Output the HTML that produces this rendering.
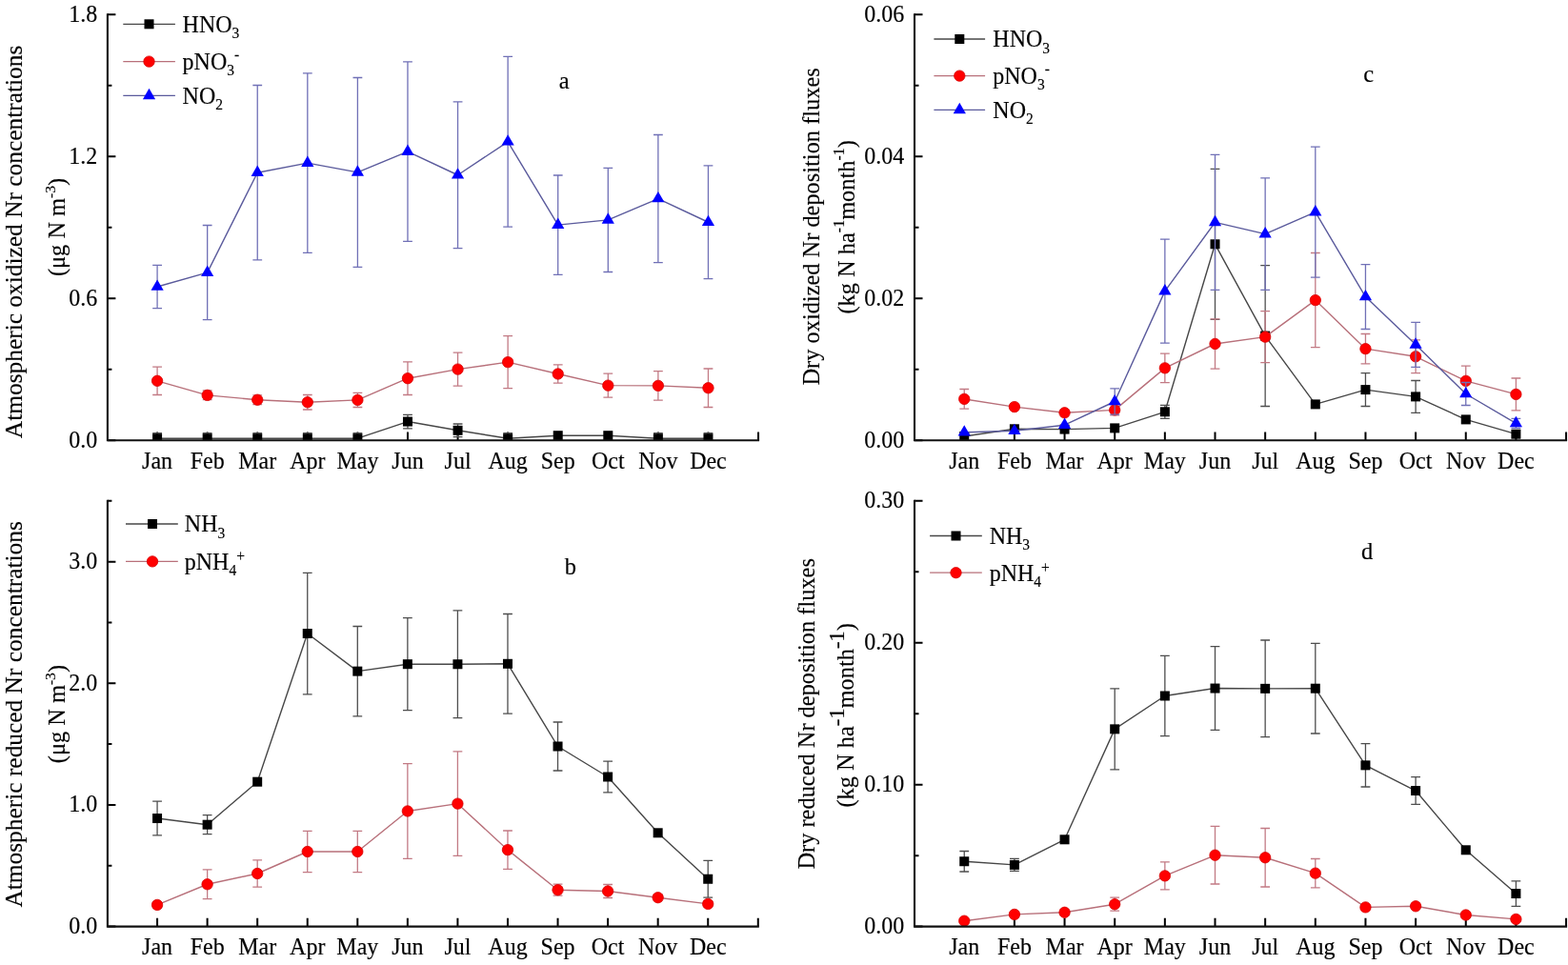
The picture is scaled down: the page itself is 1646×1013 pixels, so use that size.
<!DOCTYPE html>
<html><head><meta charset="utf-8"><title>Figure</title>
<style>
html,body{margin:0;padding:0;background:#fff;}
body{width:1646px;height:1013px;overflow:hidden;}
svg{display:block;}
text{font-family:'Liberation Serif','Times New Roman',serif;fill:#000;stroke:#000;stroke-width:0.15px;}
</style></head>
<body>
<svg width="1646" height="1013" viewBox="0 0 1646 1013">
<rect width="1646" height="1013" fill="#fff"/>
<g id="panel-a"><clipPath id="clipa"><rect x="112.9" y="0" width="685.14" height="462.2"/></clipPath>
<path d="M112.9 462.2h8.5M112.9 313.23h8.5M112.9 164.27h8.5M112.9 15.3h8.5M112.9 387.72h4.5M112.9 238.75h4.5M112.9 89.78h4.5M165.08 462.2v-8.8M217.66 462.2v-8.8M270.24 462.2v-8.8M322.82 462.2v-8.8M375.4 462.2v-8.8M427.98 462.2v-8.8M480.56 462.2v-8.8M533.14 462.2v-8.8M585.72 462.2v-8.8M638.3 462.2v-8.8M690.88 462.2v-8.8M743.46 462.2v-8.8M796.04 462.2v-8.8" stroke="#000" stroke-width="2" fill="none"/>
<g clip-path="url(#clipa)"><path d="M165.08 454.6V465.8M160.18 454.6H169.98M160.18 465.8H169.98" stroke="#4e4e4e" stroke-width="1.3" fill="none"/><path d="M217.66 454.6V465.8M212.76 454.6H222.56M212.76 465.8H222.56" stroke="#4e4e4e" stroke-width="1.3" fill="none"/><path d="M270.24 454.6V465.8M265.34 454.6H275.14M265.34 465.8H275.14" stroke="#4e4e4e" stroke-width="1.3" fill="none"/><path d="M322.82 454.6V465.8M317.92 454.6H327.72M317.92 465.8H327.72" stroke="#4e4e4e" stroke-width="1.3" fill="none"/><path d="M375.4 454.6V465.8M370.5 454.6H380.3M370.5 465.8H380.3" stroke="#4e4e4e" stroke-width="1.3" fill="none"/><path d="M427.98 435.3V449.8M423.08 435.3H432.88M423.08 449.8H432.88" stroke="#4e4e4e" stroke-width="1.3" fill="none"/><path d="M480.56 445V458.6M475.66 445H485.46M475.66 458.6H485.46" stroke="#4e4e4e" stroke-width="1.3" fill="none"/><path d="M533.14 454.6V465.8M528.24 454.6H538.04M528.24 465.8H538.04" stroke="#4e4e4e" stroke-width="1.3" fill="none"/><path d="M690.88 454.6V465.8M685.98 454.6H695.78M685.98 465.8H695.78" stroke="#4e4e4e" stroke-width="1.3" fill="none"/><path d="M743.46 454.6V465.8M738.56 454.6H748.36M738.56 465.8H748.36" stroke="#4e4e4e" stroke-width="1.3" fill="none"/><path d="M165.08 460.2 L217.66 460.2 L270.24 460.2 L322.82 460.2 L375.4 460.2 L427.98 442.55 L480.56 451.8 L533.14 460.2 L585.72 457.2 L638.3 457.2 L690.88 460.2 L743.46 460.2" stroke="#474747" stroke-width="1.4" fill="none" stroke-linejoin="round"/><rect x="160.08" y="455.2" width="10" height="10" fill="#000000"/><rect x="212.66" y="455.2" width="10" height="10" fill="#000000"/><rect x="265.24" y="455.2" width="10" height="10" fill="#000000"/><rect x="317.82" y="455.2" width="10" height="10" fill="#000000"/><rect x="370.4" y="455.2" width="10" height="10" fill="#000000"/><rect x="422.98" y="437.55" width="10" height="10" fill="#000000"/><rect x="475.56" y="446.8" width="10" height="10" fill="#000000"/><rect x="528.14" y="455.2" width="10" height="10" fill="#000000"/><rect x="580.72" y="452.2" width="10" height="10" fill="#000000"/><rect x="633.3" y="452.2" width="10" height="10" fill="#000000"/><rect x="685.88" y="455.2" width="10" height="10" fill="#000000"/><rect x="738.46" y="455.2" width="10" height="10" fill="#000000"/><path d="M165.08 385.1V414.5M160.18 385.1H169.98M160.18 414.5H169.98" stroke="#c27a84" stroke-width="1.3" fill="none"/><path d="M217.66 410V419.7M212.76 410H222.56M212.76 419.7H222.56" stroke="#c27a84" stroke-width="1.3" fill="none"/><path d="M270.24 414.8V424.6M265.34 414.8H275.14M265.34 424.6H275.14" stroke="#c27a84" stroke-width="1.3" fill="none"/><path d="M322.82 414.5V430M317.92 414.5H327.72M317.92 430H327.72" stroke="#c27a84" stroke-width="1.3" fill="none"/><path d="M375.4 412.3V427.5M370.5 412.3H380.3M370.5 427.5H380.3" stroke="#c27a84" stroke-width="1.3" fill="none"/><path d="M427.98 379.9V414.5M423.08 379.9H432.88M423.08 414.5H432.88" stroke="#c27a84" stroke-width="1.3" fill="none"/><path d="M480.56 370.1V405.1M475.66 370.1H485.46M475.66 405.1H485.46" stroke="#c27a84" stroke-width="1.3" fill="none"/><path d="M533.14 352.6V407.7M528.24 352.6H538.04M528.24 407.7H538.04" stroke="#c27a84" stroke-width="1.3" fill="none"/><path d="M585.72 382.8V402.2M580.82 382.8H590.62M580.82 402.2H590.62" stroke="#c27a84" stroke-width="1.3" fill="none"/><path d="M638.3 392.1V417.2M633.4 392.1H643.2M633.4 417.2H643.2" stroke="#c27a84" stroke-width="1.3" fill="none"/><path d="M690.88 389.6V420.1M685.98 389.6H695.78M685.98 420.1H695.78" stroke="#c27a84" stroke-width="1.3" fill="none"/><path d="M743.46 387V427.5M738.56 387H748.36M738.56 427.5H748.36" stroke="#c27a84" stroke-width="1.3" fill="none"/><path d="M165.08 399.8 L217.66 414.85 L270.24 419.7 L322.82 422.25 L375.4 419.9 L427.98 397.2 L480.56 387.6 L533.14 380.15 L585.72 392.5 L638.3 404.65 L690.88 404.85 L743.46 407.25" stroke="#b8707a" stroke-width="1.4" fill="none" stroke-linejoin="round"/><circle cx="165.08" cy="399.8" r="5.7" fill="#ff0000" stroke="#d80000" stroke-width="0.8"/><circle cx="217.66" cy="414.85" r="5.7" fill="#ff0000" stroke="#d80000" stroke-width="0.8"/><circle cx="270.24" cy="419.7" r="5.7" fill="#ff0000" stroke="#d80000" stroke-width="0.8"/><circle cx="322.82" cy="422.25" r="5.7" fill="#ff0000" stroke="#d80000" stroke-width="0.8"/><circle cx="375.4" cy="419.9" r="5.7" fill="#ff0000" stroke="#d80000" stroke-width="0.8"/><circle cx="427.98" cy="397.2" r="5.7" fill="#ff0000" stroke="#d80000" stroke-width="0.8"/><circle cx="480.56" cy="387.6" r="5.7" fill="#ff0000" stroke="#d80000" stroke-width="0.8"/><circle cx="533.14" cy="380.15" r="5.7" fill="#ff0000" stroke="#d80000" stroke-width="0.8"/><circle cx="585.72" cy="392.5" r="5.7" fill="#ff0000" stroke="#d80000" stroke-width="0.8"/><circle cx="638.3" cy="404.65" r="5.7" fill="#ff0000" stroke="#d80000" stroke-width="0.8"/><circle cx="690.88" cy="404.85" r="5.7" fill="#ff0000" stroke="#d80000" stroke-width="0.8"/><circle cx="743.46" cy="407.25" r="5.7" fill="#ff0000" stroke="#d80000" stroke-width="0.8"/><path d="M165.08 278.4V323.6M160.18 278.4H169.98M160.18 323.6H169.98" stroke="#7070b6" stroke-width="1.3" fill="none"/><path d="M217.66 236.5V335.7M212.76 236.5H222.56M212.76 335.7H222.56" stroke="#7070b6" stroke-width="1.3" fill="none"/><path d="M270.24 89.5V272.9M265.34 89.5H275.14M265.34 272.9H275.14" stroke="#7070b6" stroke-width="1.3" fill="none"/><path d="M322.82 76.9V265.4M317.92 76.9H327.72M317.92 265.4H327.72" stroke="#7070b6" stroke-width="1.3" fill="none"/><path d="M375.4 81.5V280.3M370.5 81.5H380.3M370.5 280.3H380.3" stroke="#7070b6" stroke-width="1.3" fill="none"/><path d="M427.98 64.8V253.4M423.08 64.8H432.88M423.08 253.4H432.88" stroke="#7070b6" stroke-width="1.3" fill="none"/><path d="M480.56 106.9V260.6M475.66 106.9H485.46M475.66 260.6H485.46" stroke="#7070b6" stroke-width="1.3" fill="none"/><path d="M533.14 59.4V238.2M528.24 59.4H538.04M528.24 238.2H538.04" stroke="#7070b6" stroke-width="1.3" fill="none"/><path d="M585.72 184V288.3M580.82 184H590.62M580.82 288.3H590.62" stroke="#7070b6" stroke-width="1.3" fill="none"/><path d="M638.3 176.3V285.5M633.4 176.3H643.2M633.4 285.5H643.2" stroke="#7070b6" stroke-width="1.3" fill="none"/><path d="M690.88 141.5V275.6M685.98 141.5H695.78M685.98 275.6H695.78" stroke="#7070b6" stroke-width="1.3" fill="none"/><path d="M743.46 173.8V292.7M738.56 173.8H748.36M738.56 292.7H748.36" stroke="#7070b6" stroke-width="1.3" fill="none"/><path d="M165.08 301 L217.66 286.1 L270.24 181.2 L322.82 171.15 L375.4 180.9 L427.98 159.1 L480.56 183.75 L533.14 148.8 L585.72 236.15 L638.3 230.9 L690.88 208.55 L743.46 233.25" stroke="#5a5a9c" stroke-width="1.4" fill="none" stroke-linejoin="round"/><polygon points="165.08,293.38 171.68,304.81 158.48,304.81" fill="#0000ff"/><polygon points="217.66,278.48 224.26,289.91 211.06,289.91" fill="#0000ff"/><polygon points="270.24,173.58 276.84,185.01 263.64,185.01" fill="#0000ff"/><polygon points="322.82,163.53 329.42,174.96 316.22,174.96" fill="#0000ff"/><polygon points="375.4,173.28 382,184.71 368.8,184.71" fill="#0000ff"/><polygon points="427.98,151.48 434.58,162.91 421.38,162.91" fill="#0000ff"/><polygon points="480.56,176.13 487.16,187.56 473.96,187.56" fill="#0000ff"/><polygon points="533.14,141.18 539.74,152.61 526.54,152.61" fill="#0000ff"/><polygon points="585.72,228.53 592.32,239.96 579.12,239.96" fill="#0000ff"/><polygon points="638.3,223.28 644.9,234.71 631.7,234.71" fill="#0000ff"/><polygon points="690.88,200.93 697.48,212.36 684.28,212.36" fill="#0000ff"/><polygon points="743.46,225.63 750.06,237.06 736.86,237.06" fill="#0000ff"/></g>
<path d="M112.9 15.3V462.2H796.04" stroke="#111" stroke-width="2.1" fill="none" stroke-linecap="square"/>
<text transform="translate(102.2 469.71) scale(1 1.09)" text-anchor="end" font-size="24">0.0</text>
<text transform="translate(102.2 320.74) scale(1 1.09)" text-anchor="end" font-size="24">0.6</text>
<text transform="translate(102.2 171.77) scale(1 1.09)" text-anchor="end" font-size="24">1.2</text>
<text transform="translate(102.2 22.81) scale(1 1.09)" text-anchor="end" font-size="24">1.8</text>
<text transform="translate(165.08 491.9) scale(1 1.09)" text-anchor="middle" font-size="24">Jan</text>
<text transform="translate(217.66 491.9) scale(1 1.09)" text-anchor="middle" font-size="24">Feb</text>
<text transform="translate(270.24 491.9) scale(1 1.09)" text-anchor="middle" font-size="24">Mar</text>
<text transform="translate(322.82 491.9) scale(1 1.09)" text-anchor="middle" font-size="24">Apr</text>
<text transform="translate(375.4 491.9) scale(1 1.09)" text-anchor="middle" font-size="24">May</text>
<text transform="translate(427.98 491.9) scale(1 1.09)" text-anchor="middle" font-size="24">Jun</text>
<text transform="translate(480.56 491.9) scale(1 1.09)" text-anchor="middle" font-size="24">Jul</text>
<text transform="translate(533.14 491.9) scale(1 1.09)" text-anchor="middle" font-size="24">Aug</text>
<text transform="translate(585.72 491.9) scale(1 1.09)" text-anchor="middle" font-size="24">Sep</text>
<text transform="translate(638.3 491.9) scale(1 1.09)" text-anchor="middle" font-size="24">Oct</text>
<text transform="translate(690.88 491.9) scale(1 1.09)" text-anchor="middle" font-size="24">Nov</text>
<text transform="translate(743.46 491.9) scale(1 1.09)" text-anchor="middle" font-size="24">Dec</text>
<path d="M129.3 25.3H183.9" stroke="#474747" stroke-width="1.3"/>
<rect x="151.5" y="20.3" width="10" height="10" fill="#000000"/>
<text transform="translate(191.6 33.7) scale(1 1.09)" font-size="24"><tspan dy="-0" font-size="24">HNO</tspan><tspan dy="5.78" font-size="15.5">3</tspan></text>
<path d="M129.3 64.6H183.9" stroke="#b8707a" stroke-width="1.3"/>
<circle cx="156.5" cy="64.6" r="5.7" fill="#ff0000" stroke="#d80000" stroke-width="0.8"/>
<text transform="translate(191.6 73) scale(1 1.09)" font-size="24"><tspan dy="-0" font-size="24">pNO</tspan><tspan dy="5.78" font-size="15.5">3</tspan><tspan dy="-15.23" font-size="15.5">-</tspan></text>
<path d="M129.3 100.4H183.9" stroke="#5a5a9c" stroke-width="1.3"/>
<polygon points="156.5,92.78 163.1,104.21 149.9,104.21" fill="#0000ff"/>
<text transform="translate(191.6 108.8) scale(1 1.09)" font-size="24"><tspan dy="-0" font-size="24">NO</tspan><tspan dy="5.78" font-size="15.5">2</tspan></text>
<text x="592.2" y="93.2" text-anchor="middle" font-size="24.5">a</text>
<text transform="translate(23 253.9) rotate(-90)" text-anchor="middle" font-size="25.4">Atmospheric oxidized Nr concentrations</text>
<text transform="translate(68 238.5) rotate(-90)" text-anchor="middle" font-size="24.4"><tspan dy="-0" font-size="24.4">(μg N m</tspan><tspan dy="-10.3" font-size="15.5">-3</tspan><tspan dy="10.3" font-size="24.4">)</tspan></text></g>
<g id="panel-c"><clipPath id="clipc"><rect x="960" y="0" width="686.05" height="462.2"/></clipPath>
<path d="M960 462.2h8.5M960 313.23h8.5M960 164.27h8.5M960 15.3h8.5M960 387.72h4.5M960 238.75h4.5M960 89.78h4.5M1012.25 462.2v-8.8M1064.9 462.2v-8.8M1117.55 462.2v-8.8M1170.2 462.2v-8.8M1222.85 462.2v-8.8M1275.5 462.2v-8.8M1328.15 462.2v-8.8M1380.8 462.2v-8.8M1433.45 462.2v-8.8M1486.1 462.2v-8.8M1538.75 462.2v-8.8M1591.4 462.2v-8.8M1644.05 462.2v-8.8" stroke="#000" stroke-width="2" fill="none"/>
<g clip-path="url(#clipc)"><path d="M1222.85 425.3V439.3M1217.95 425.3H1227.75M1217.95 439.3H1227.75" stroke="#4e4e4e" stroke-width="1.3" fill="none"/><path d="M1275.5 177.3V335.3M1270.6 177.3H1280.4M1270.6 335.3H1280.4" stroke="#4e4e4e" stroke-width="1.3" fill="none"/><path d="M1328.15 278.7V426.5M1323.25 278.7H1333.05M1323.25 426.5H1333.05" stroke="#4e4e4e" stroke-width="1.3" fill="none"/><path d="M1433.45 391.7V426.5M1428.55 391.7H1438.35M1428.55 426.5H1438.35" stroke="#4e4e4e" stroke-width="1.3" fill="none"/><path d="M1486.1 399.5V433.3M1481.2 399.5H1491M1481.2 433.3H1491" stroke="#4e4e4e" stroke-width="1.3" fill="none"/><path d="M1012.25 458 L1064.9 450.3 L1117.55 450.6 L1170.2 449.4 L1222.85 432.3 L1275.5 256.3 L1328.15 352.6 L1380.8 424.4 L1433.45 409.1 L1486.1 416.4 L1538.75 440.4 L1591.4 455.7" stroke="#474747" stroke-width="1.4" fill="none" stroke-linejoin="round"/><rect x="1007.25" y="453" width="10" height="10" fill="#000000"/><rect x="1059.9" y="445.3" width="10" height="10" fill="#000000"/><rect x="1112.55" y="445.6" width="10" height="10" fill="#000000"/><rect x="1165.2" y="444.4" width="10" height="10" fill="#000000"/><rect x="1217.85" y="427.3" width="10" height="10" fill="#000000"/><rect x="1270.5" y="251.3" width="10" height="10" fill="#000000"/><rect x="1323.15" y="347.6" width="10" height="10" fill="#000000"/><rect x="1375.8" y="419.4" width="10" height="10" fill="#000000"/><rect x="1428.45" y="404.1" width="10" height="10" fill="#000000"/><rect x="1481.1" y="411.4" width="10" height="10" fill="#000000"/><rect x="1533.75" y="435.4" width="10" height="10" fill="#000000"/><rect x="1586.4" y="450.7" width="10" height="10" fill="#000000"/><path d="M1012.25 408.5V429.2M1007.35 408.5H1017.15M1007.35 429.2H1017.15" stroke="#c27a84" stroke-width="1.3" fill="none"/><path d="M1170.2 424.9V435.9M1165.3 424.9H1175.1M1165.3 435.9H1175.1" stroke="#c27a84" stroke-width="1.3" fill="none"/><path d="M1222.85 371.1V401.6M1217.95 371.1H1227.75M1217.95 401.6H1227.75" stroke="#c27a84" stroke-width="1.3" fill="none"/><path d="M1275.5 334.85V387.05M1270.6 334.85H1280.4M1270.6 387.05H1280.4" stroke="#c27a84" stroke-width="1.3" fill="none"/><path d="M1328.15 326.65V380.65M1323.25 326.65H1333.05M1323.25 380.65H1333.05" stroke="#c27a84" stroke-width="1.3" fill="none"/><path d="M1380.8 265.5V364.7M1375.9 265.5H1385.7M1375.9 364.7H1385.7" stroke="#c27a84" stroke-width="1.3" fill="none"/><path d="M1433.45 350.5V381.8M1428.55 350.5H1438.35M1428.55 381.8H1438.35" stroke="#c27a84" stroke-width="1.3" fill="none"/><path d="M1486.1 356.9V391.7M1481.2 356.9H1491M1481.2 391.7H1491" stroke="#c27a84" stroke-width="1.3" fill="none"/><path d="M1538.75 384.2V415.5M1533.85 384.2H1543.65M1533.85 415.5H1543.65" stroke="#c27a84" stroke-width="1.3" fill="none"/><path d="M1591.4 397V430.8M1586.5 397H1596.3M1586.5 430.8H1596.3" stroke="#c27a84" stroke-width="1.3" fill="none"/><path d="M1012.25 418.85 L1064.9 427.1 L1117.55 433.3 L1170.2 430.4 L1222.85 386.35 L1275.5 360.95 L1328.15 353.65 L1380.8 315.1 L1433.45 366.15 L1486.1 374.3 L1538.75 399.85 L1591.4 413.9" stroke="#b8707a" stroke-width="1.4" fill="none" stroke-linejoin="round"/><circle cx="1012.25" cy="418.85" r="5.7" fill="#ff0000" stroke="#d80000" stroke-width="0.8"/><circle cx="1064.9" cy="427.1" r="5.7" fill="#ff0000" stroke="#d80000" stroke-width="0.8"/><circle cx="1117.55" cy="433.3" r="5.7" fill="#ff0000" stroke="#d80000" stroke-width="0.8"/><circle cx="1170.2" cy="430.4" r="5.7" fill="#ff0000" stroke="#d80000" stroke-width="0.8"/><circle cx="1222.85" cy="386.35" r="5.7" fill="#ff0000" stroke="#d80000" stroke-width="0.8"/><circle cx="1275.5" cy="360.95" r="5.7" fill="#ff0000" stroke="#d80000" stroke-width="0.8"/><circle cx="1328.15" cy="353.65" r="5.7" fill="#ff0000" stroke="#d80000" stroke-width="0.8"/><circle cx="1380.8" cy="315.1" r="5.7" fill="#ff0000" stroke="#d80000" stroke-width="0.8"/><circle cx="1433.45" cy="366.15" r="5.7" fill="#ff0000" stroke="#d80000" stroke-width="0.8"/><circle cx="1486.1" cy="374.3" r="5.7" fill="#ff0000" stroke="#d80000" stroke-width="0.8"/><circle cx="1538.75" cy="399.85" r="5.7" fill="#ff0000" stroke="#d80000" stroke-width="0.8"/><circle cx="1591.4" cy="413.9" r="5.7" fill="#ff0000" stroke="#d80000" stroke-width="0.8"/><path d="M1170.2 407.9V435.1M1165.3 407.9H1175.1M1165.3 435.1H1175.1" stroke="#7070b6" stroke-width="1.3" fill="none"/><path d="M1222.85 251.2V360.1M1217.95 251.2H1227.75M1217.95 360.1H1227.75" stroke="#7070b6" stroke-width="1.3" fill="none"/><path d="M1275.5 162.4V304.4M1270.6 162.4H1280.4M1270.6 304.4H1280.4" stroke="#7070b6" stroke-width="1.3" fill="none"/><path d="M1328.15 186.9V304.3M1323.25 186.9H1333.05M1323.25 304.3H1333.05" stroke="#7070b6" stroke-width="1.3" fill="none"/><path d="M1380.8 154.2V291.1M1375.9 154.2H1385.7M1375.9 291.1H1385.7" stroke="#7070b6" stroke-width="1.3" fill="none"/><path d="M1433.45 277.6V345.5M1428.55 277.6H1438.35M1428.55 345.5H1438.35" stroke="#7070b6" stroke-width="1.3" fill="none"/><path d="M1486.1 338.4V385.3M1481.2 338.4H1491M1481.2 385.3H1491" stroke="#7070b6" stroke-width="1.3" fill="none"/><path d="M1538.75 401.5V425.5M1533.85 401.5H1543.65M1533.85 425.5H1543.65" stroke="#7070b6" stroke-width="1.3" fill="none"/><path d="M1591.4 439.4V449.4M1586.5 439.4H1596.3M1586.5 449.4H1596.3" stroke="#7070b6" stroke-width="1.3" fill="none"/><path d="M1012.25 453.8 L1064.9 452.3 L1117.55 446.2 L1170.2 421.5 L1222.85 305.65 L1275.5 233.4 L1328.15 245.6 L1380.8 222.65 L1433.45 311.55 L1486.1 361.85 L1538.75 413.5 L1591.4 444.4" stroke="#5a5a9c" stroke-width="1.4" fill="none" stroke-linejoin="round"/><polygon points="1012.25,446.18 1018.85,457.61 1005.65,457.61" fill="#0000ff"/><polygon points="1064.9,444.68 1071.5,456.11 1058.3,456.11" fill="#0000ff"/><polygon points="1117.55,438.58 1124.15,450.01 1110.95,450.01" fill="#0000ff"/><polygon points="1170.2,413.88 1176.8,425.31 1163.6,425.31" fill="#0000ff"/><polygon points="1222.85,298.03 1229.45,309.46 1216.25,309.46" fill="#0000ff"/><polygon points="1275.5,225.78 1282.1,237.21 1268.9,237.21" fill="#0000ff"/><polygon points="1328.15,237.98 1334.75,249.41 1321.55,249.41" fill="#0000ff"/><polygon points="1380.8,215.03 1387.4,226.46 1374.2,226.46" fill="#0000ff"/><polygon points="1433.45,303.93 1440.05,315.36 1426.85,315.36" fill="#0000ff"/><polygon points="1486.1,354.23 1492.7,365.66 1479.5,365.66" fill="#0000ff"/><polygon points="1538.75,405.88 1545.35,417.31 1532.15,417.31" fill="#0000ff"/><polygon points="1591.4,436.78 1598,448.21 1584.8,448.21" fill="#0000ff"/></g>
<path d="M960 15.3V462.2H1644.05" stroke="#111" stroke-width="2.1" fill="none" stroke-linecap="square"/>
<text transform="translate(949.3 469.71) scale(1 1.09)" text-anchor="end" font-size="24">0.00</text>
<text transform="translate(949.3 320.74) scale(1 1.09)" text-anchor="end" font-size="24">0.02</text>
<text transform="translate(949.3 171.77) scale(1 1.09)" text-anchor="end" font-size="24">0.04</text>
<text transform="translate(949.3 22.81) scale(1 1.09)" text-anchor="end" font-size="24">0.06</text>
<text transform="translate(1012.25 491.9) scale(1 1.09)" text-anchor="middle" font-size="24">Jan</text>
<text transform="translate(1064.9 491.9) scale(1 1.09)" text-anchor="middle" font-size="24">Feb</text>
<text transform="translate(1117.55 491.9) scale(1 1.09)" text-anchor="middle" font-size="24">Mar</text>
<text transform="translate(1170.2 491.9) scale(1 1.09)" text-anchor="middle" font-size="24">Apr</text>
<text transform="translate(1222.85 491.9) scale(1 1.09)" text-anchor="middle" font-size="24">May</text>
<text transform="translate(1275.5 491.9) scale(1 1.09)" text-anchor="middle" font-size="24">Jun</text>
<text transform="translate(1328.15 491.9) scale(1 1.09)" text-anchor="middle" font-size="24">Jul</text>
<text transform="translate(1380.8 491.9) scale(1 1.09)" text-anchor="middle" font-size="24">Aug</text>
<text transform="translate(1433.45 491.9) scale(1 1.09)" text-anchor="middle" font-size="24">Sep</text>
<text transform="translate(1486.1 491.9) scale(1 1.09)" text-anchor="middle" font-size="24">Oct</text>
<text transform="translate(1538.75 491.9) scale(1 1.09)" text-anchor="middle" font-size="24">Nov</text>
<text transform="translate(1591.4 491.9) scale(1 1.09)" text-anchor="middle" font-size="24">Dec</text>
<path d="M980.4 41H1034.1" stroke="#474747" stroke-width="1.3"/>
<rect x="1002.3" y="36" width="10" height="10" fill="#000000"/>
<text transform="translate(1042.3 49.4) scale(1 1.09)" font-size="24"><tspan dy="-0" font-size="24">HNO</tspan><tspan dy="5.78" font-size="15.5">3</tspan></text>
<path d="M980.4 79.6H1034.1" stroke="#b8707a" stroke-width="1.3"/>
<circle cx="1007.3" cy="79.6" r="5.7" fill="#ff0000" stroke="#d80000" stroke-width="0.8"/>
<text transform="translate(1042.3 88) scale(1 1.09)" font-size="24"><tspan dy="-0" font-size="24">pNO</tspan><tspan dy="5.78" font-size="15.5">3</tspan><tspan dy="-15.23" font-size="15.5">-</tspan></text>
<path d="M980.4 115.4H1034.1" stroke="#5a5a9c" stroke-width="1.3"/>
<polygon points="1007.3,107.78 1013.9,119.21 1000.7,119.21" fill="#0000ff"/>
<text transform="translate(1042.3 123.8) scale(1 1.09)" font-size="24"><tspan dy="-0" font-size="24">NO</tspan><tspan dy="5.78" font-size="15.5">2</tspan></text>
<text x="1436.6" y="85.6" text-anchor="middle" font-size="24.5">c</text>
<text transform="translate(859.7 237.9) rotate(-90)" text-anchor="middle" font-size="24.4">Dry oxidized Nr deposition fluxes</text>
<text transform="translate(896.5 238.3) rotate(-90)" text-anchor="middle" font-size="24.4"><tspan dy="-0" font-size="24.4">(kg N ha</tspan><tspan dy="-10.3" font-size="16">-1</tspan><tspan dy="10.3" font-size="24.4">month</tspan><tspan dy="-10.3" font-size="16">-1</tspan><tspan dy="10.3" font-size="24.4">)</tspan></text></g>
<g id="panel-b"><clipPath id="clipb"><rect x="112.9" y="0" width="684.88" height="972.6"/></clipPath>
<path d="M112.9 972.6h8.5M112.9 844.94h8.5M112.9 717.29h8.5M112.9 589.63h8.5M112.9 908.77h4.5M112.9 781.11h4.5M112.9 653.46h4.5M112.9 525.8h4.5M165.06 972.6v-8.8M217.62 972.6v-8.8M270.18 972.6v-8.8M322.74 972.6v-8.8M375.3 972.6v-8.8M427.86 972.6v-8.8M480.42 972.6v-8.8M532.98 972.6v-8.8M585.54 972.6v-8.8M638.1 972.6v-8.8M690.66 972.6v-8.8M743.22 972.6v-8.8M795.78 972.6v-8.8" stroke="#000" stroke-width="2" fill="none"/>
<g clip-path="url(#clipb)"><path d="M165.06 841.2V876.9M160.16 841.2H169.96M160.16 876.9H169.96" stroke="#4e4e4e" stroke-width="1.3" fill="none"/><path d="M217.62 855.7V875.7M212.72 855.7H222.52M212.72 875.7H222.52" stroke="#4e4e4e" stroke-width="1.3" fill="none"/><path d="M322.74 601.3V728.8M317.84 601.3H327.64M317.84 728.8H327.64" stroke="#4e4e4e" stroke-width="1.3" fill="none"/><path d="M375.3 657.5V751.8M370.4 657.5H380.2M370.4 751.8H380.2" stroke="#4e4e4e" stroke-width="1.3" fill="none"/><path d="M427.86 648.7V745.7M422.96 648.7H432.76M422.96 745.7H432.76" stroke="#4e4e4e" stroke-width="1.3" fill="none"/><path d="M480.42 640.9V753.6M475.52 640.9H485.32M475.52 753.6H485.32" stroke="#4e4e4e" stroke-width="1.3" fill="none"/><path d="M532.98 644.5V749.1M528.08 644.5H537.88M528.08 749.1H537.88" stroke="#4e4e4e" stroke-width="1.3" fill="none"/><path d="M585.54 758V809M580.64 758H590.44M580.64 809H590.44" stroke="#4e4e4e" stroke-width="1.3" fill="none"/><path d="M638.1 799.2V831.8M633.2 799.2H643M633.2 831.8H643" stroke="#4e4e4e" stroke-width="1.3" fill="none"/><path d="M743.22 903.3V942.2M738.32 903.3H748.12M738.32 942.2H748.12" stroke="#4e4e4e" stroke-width="1.3" fill="none"/><path d="M165.06 859.05 L217.62 865.7 L270.18 820.7 L322.74 665.05 L375.3 704.65 L427.86 697.2 L480.42 697.25 L532.98 696.8 L585.54 783.5 L638.1 815.5 L690.66 874.3 L743.22 922.75" stroke="#474747" stroke-width="1.4" fill="none" stroke-linejoin="round"/><rect x="160.06" y="854.05" width="10" height="10" fill="#000000"/><rect x="212.62" y="860.7" width="10" height="10" fill="#000000"/><rect x="265.18" y="815.7" width="10" height="10" fill="#000000"/><rect x="317.74" y="660.05" width="10" height="10" fill="#000000"/><rect x="370.3" y="699.65" width="10" height="10" fill="#000000"/><rect x="422.86" y="692.2" width="10" height="10" fill="#000000"/><rect x="475.42" y="692.25" width="10" height="10" fill="#000000"/><rect x="527.98" y="691.8" width="10" height="10" fill="#000000"/><rect x="580.54" y="778.5" width="10" height="10" fill="#000000"/><rect x="633.1" y="810.5" width="10" height="10" fill="#000000"/><rect x="685.66" y="869.3" width="10" height="10" fill="#000000"/><rect x="738.22" y="917.75" width="10" height="10" fill="#000000"/><path d="M165.06 946.9V952.9M160.16 946.9H169.96M160.16 952.9H169.96" stroke="#c27a84" stroke-width="1.3" fill="none"/><path d="M217.62 912.9V943.6M212.72 912.9H222.52M212.72 943.6H222.52" stroke="#c27a84" stroke-width="1.3" fill="none"/><path d="M270.18 902.9V931.1M265.28 902.9H275.08M265.28 931.1H275.08" stroke="#c27a84" stroke-width="1.3" fill="none"/><path d="M322.74 872.4V915.6M317.84 872.4H327.64M317.84 915.6H327.64" stroke="#c27a84" stroke-width="1.3" fill="none"/><path d="M375.3 872.4V915.6M370.4 872.4H380.2M370.4 915.6H380.2" stroke="#c27a84" stroke-width="1.3" fill="none"/><path d="M427.86 801.55V901.35M422.96 801.55H432.76M422.96 901.35H432.76" stroke="#c27a84" stroke-width="1.3" fill="none"/><path d="M480.42 788.9V898.4M475.52 788.9H485.32M475.52 898.4H485.32" stroke="#c27a84" stroke-width="1.3" fill="none"/><path d="M532.98 872V912.3M528.08 872H537.88M528.08 912.3H537.88" stroke="#c27a84" stroke-width="1.3" fill="none"/><path d="M585.54 928.2V940.2M580.64 928.2H590.44M580.64 940.2H590.44" stroke="#c27a84" stroke-width="1.3" fill="none"/><path d="M638.1 928.5V942.5M633.2 928.5H643M633.2 942.5H643" stroke="#c27a84" stroke-width="1.3" fill="none"/><path d="M690.66 939.2V945.2M685.76 939.2H695.56M685.76 945.2H695.56" stroke="#c27a84" stroke-width="1.3" fill="none"/><path d="M743.22 945.9V951.9M738.32 945.9H748.12M738.32 951.9H748.12" stroke="#c27a84" stroke-width="1.3" fill="none"/><path d="M165.06 949.9 L217.62 928.25 L270.18 917 L322.74 894 L375.3 894 L427.86 851.45 L480.42 843.65 L532.98 892.15 L585.54 934.2 L638.1 935.5 L690.66 942.2 L743.22 948.9" stroke="#b8707a" stroke-width="1.4" fill="none" stroke-linejoin="round"/><circle cx="165.06" cy="949.9" r="5.7" fill="#ff0000" stroke="#d80000" stroke-width="0.8"/><circle cx="217.62" cy="928.25" r="5.7" fill="#ff0000" stroke="#d80000" stroke-width="0.8"/><circle cx="270.18" cy="917" r="5.7" fill="#ff0000" stroke="#d80000" stroke-width="0.8"/><circle cx="322.74" cy="894" r="5.7" fill="#ff0000" stroke="#d80000" stroke-width="0.8"/><circle cx="375.3" cy="894" r="5.7" fill="#ff0000" stroke="#d80000" stroke-width="0.8"/><circle cx="427.86" cy="851.45" r="5.7" fill="#ff0000" stroke="#d80000" stroke-width="0.8"/><circle cx="480.42" cy="843.65" r="5.7" fill="#ff0000" stroke="#d80000" stroke-width="0.8"/><circle cx="532.98" cy="892.15" r="5.7" fill="#ff0000" stroke="#d80000" stroke-width="0.8"/><circle cx="585.54" cy="934.2" r="5.7" fill="#ff0000" stroke="#d80000" stroke-width="0.8"/><circle cx="638.1" cy="935.5" r="5.7" fill="#ff0000" stroke="#d80000" stroke-width="0.8"/><circle cx="690.66" cy="942.2" r="5.7" fill="#ff0000" stroke="#d80000" stroke-width="0.8"/><circle cx="743.22" cy="948.9" r="5.7" fill="#ff0000" stroke="#d80000" stroke-width="0.8"/></g>
<path d="M112.9 525.8V972.6H795.78" stroke="#111" stroke-width="2.1" fill="none" stroke-linecap="square"/>
<text transform="translate(102.2 980.11) scale(1 1.09)" text-anchor="end" font-size="24">0.0</text>
<text transform="translate(102.2 852.45) scale(1 1.09)" text-anchor="end" font-size="24">1.0</text>
<text transform="translate(102.2 724.79) scale(1 1.09)" text-anchor="end" font-size="24">2.0</text>
<text transform="translate(102.2 597.13) scale(1 1.09)" text-anchor="end" font-size="24">3.0</text>
<text transform="translate(165.06 1001.8) scale(1 1.09)" text-anchor="middle" font-size="24">Jan</text>
<text transform="translate(217.62 1001.8) scale(1 1.09)" text-anchor="middle" font-size="24">Feb</text>
<text transform="translate(270.18 1001.8) scale(1 1.09)" text-anchor="middle" font-size="24">Mar</text>
<text transform="translate(322.74 1001.8) scale(1 1.09)" text-anchor="middle" font-size="24">Apr</text>
<text transform="translate(375.3 1001.8) scale(1 1.09)" text-anchor="middle" font-size="24">May</text>
<text transform="translate(427.86 1001.8) scale(1 1.09)" text-anchor="middle" font-size="24">Jun</text>
<text transform="translate(480.42 1001.8) scale(1 1.09)" text-anchor="middle" font-size="24">Jul</text>
<text transform="translate(532.98 1001.8) scale(1 1.09)" text-anchor="middle" font-size="24">Aug</text>
<text transform="translate(585.54 1001.8) scale(1 1.09)" text-anchor="middle" font-size="24">Sep</text>
<text transform="translate(638.1 1001.8) scale(1 1.09)" text-anchor="middle" font-size="24">Oct</text>
<text transform="translate(690.66 1001.8) scale(1 1.09)" text-anchor="middle" font-size="24">Nov</text>
<text transform="translate(743.22 1001.8) scale(1 1.09)" text-anchor="middle" font-size="24">Dec</text>
<path d="M132 550H186.8" stroke="#474747" stroke-width="1.3"/>
<rect x="155" y="545" width="10" height="10" fill="#000000"/>
<text transform="translate(193.8 558.4) scale(1 1.09)" font-size="24"><tspan dy="-0" font-size="24">NH</tspan><tspan dy="5.78" font-size="15.5">3</tspan></text>
<path d="M132 589.4H186.8" stroke="#b8707a" stroke-width="1.3"/>
<circle cx="160" cy="589.4" r="5.7" fill="#ff0000" stroke="#d80000" stroke-width="0.8"/>
<text transform="translate(193.8 597.8) scale(1 1.09)" font-size="24"><tspan dy="-0" font-size="24">pNH</tspan><tspan dy="5.78" font-size="15.5">4</tspan><tspan dy="-13.53" font-size="15.5">+</tspan></text>
<text x="598.8" y="603.4" text-anchor="middle" font-size="24.5">b</text>
<text transform="translate(23.4 749.9) rotate(-90)" text-anchor="middle" font-size="25.4">Atmospheric reduced Nr concentrations</text>
<text transform="translate(68.3 749.6) rotate(-90)" text-anchor="middle" font-size="24.4"><tspan dy="-0" font-size="24.4">(μg N m</tspan><tspan dy="-10.3" font-size="15.5">-3</tspan><tspan dy="10.3" font-size="24.4">)</tspan></text></g>
<g id="panel-d"><clipPath id="clipd"><rect x="960" y="0" width="686.05" height="972.6"/></clipPath>
<path d="M960 972.6h8.5M960 823.67h8.5M960 674.73h8.5M960 525.8h8.5M960 898.13h4.5M960 749.2h4.5M960 600.27h4.5M1012.25 972.6v-8.8M1064.9 972.6v-8.8M1117.55 972.6v-8.8M1170.2 972.6v-8.8M1222.85 972.6v-8.8M1275.5 972.6v-8.8M1328.15 972.6v-8.8M1380.8 972.6v-8.8M1433.45 972.6v-8.8M1486.1 972.6v-8.8M1538.75 972.6v-8.8M1591.4 972.6v-8.8M1644.05 972.6v-8.8" stroke="#000" stroke-width="2" fill="none"/>
<g clip-path="url(#clipd)"><path d="M1012.25 893.5V915M1007.35 893.5H1017.15M1007.35 915H1017.15" stroke="#4e4e4e" stroke-width="1.3" fill="none"/><path d="M1064.9 901.4V914.4M1060 901.4H1069.8M1060 914.4H1069.8" stroke="#4e4e4e" stroke-width="1.3" fill="none"/><path d="M1170.2 722.8V807.9M1165.3 722.8H1175.1M1165.3 807.9H1175.1" stroke="#4e4e4e" stroke-width="1.3" fill="none"/><path d="M1222.85 688.3V772.7M1217.95 688.3H1227.75M1217.95 772.7H1227.75" stroke="#4e4e4e" stroke-width="1.3" fill="none"/><path d="M1275.5 678.7V766.4M1270.6 678.7H1280.4M1270.6 766.4H1280.4" stroke="#4e4e4e" stroke-width="1.3" fill="none"/><path d="M1328.15 672V773.7M1323.25 672H1333.05M1323.25 773.7H1333.05" stroke="#4e4e4e" stroke-width="1.3" fill="none"/><path d="M1380.8 675.4V770M1375.9 675.4H1385.7M1375.9 770H1385.7" stroke="#4e4e4e" stroke-width="1.3" fill="none"/><path d="M1433.45 780.7V826M1428.55 780.7H1438.35M1428.55 826H1438.35" stroke="#4e4e4e" stroke-width="1.3" fill="none"/><path d="M1486.1 815.7V844.4M1481.2 815.7H1491M1481.2 844.4H1491" stroke="#4e4e4e" stroke-width="1.3" fill="none"/><path d="M1591.4 924.8V951.3M1586.5 924.8H1596.3M1586.5 951.3H1596.3" stroke="#4e4e4e" stroke-width="1.3" fill="none"/><path d="M1012.25 904.25 L1064.9 907.9 L1117.55 881.3 L1170.2 765.35 L1222.85 730.5 L1275.5 722.55 L1328.15 722.85 L1380.8 722.7 L1433.45 803.35 L1486.1 830.05 L1538.75 892.3 L1591.4 938.05" stroke="#474747" stroke-width="1.4" fill="none" stroke-linejoin="round"/><rect x="1007.25" y="899.25" width="10" height="10" fill="#000000"/><rect x="1059.9" y="902.9" width="10" height="10" fill="#000000"/><rect x="1112.55" y="876.3" width="10" height="10" fill="#000000"/><rect x="1165.2" y="760.35" width="10" height="10" fill="#000000"/><rect x="1217.85" y="725.5" width="10" height="10" fill="#000000"/><rect x="1270.5" y="717.55" width="10" height="10" fill="#000000"/><rect x="1323.15" y="717.85" width="10" height="10" fill="#000000"/><rect x="1375.8" y="717.7" width="10" height="10" fill="#000000"/><rect x="1428.45" y="798.35" width="10" height="10" fill="#000000"/><rect x="1481.1" y="825.05" width="10" height="10" fill="#000000"/><rect x="1533.75" y="887.3" width="10" height="10" fill="#000000"/><rect x="1586.4" y="933.05" width="10" height="10" fill="#000000"/><path d="M1064.9 956.9V962.9M1060 956.9H1069.8M1060 962.9H1069.8" stroke="#c27a84" stroke-width="1.3" fill="none"/><path d="M1117.55 954.8V960.8M1112.65 954.8H1122.45M1112.65 960.8H1122.45" stroke="#c27a84" stroke-width="1.3" fill="none"/><path d="M1170.2 942.2V956.2M1165.3 942.2H1175.1M1165.3 956.2H1175.1" stroke="#c27a84" stroke-width="1.3" fill="none"/><path d="M1222.85 904.9V933.9M1217.95 904.9H1227.75M1217.95 933.9H1227.75" stroke="#c27a84" stroke-width="1.3" fill="none"/><path d="M1275.5 867.4V928M1270.6 867.4H1280.4M1270.6 928H1280.4" stroke="#c27a84" stroke-width="1.3" fill="none"/><path d="M1328.15 869.5V931M1323.25 869.5H1333.05M1323.25 931H1333.05" stroke="#c27a84" stroke-width="1.3" fill="none"/><path d="M1380.8 901.5V931.8M1375.9 901.5H1385.7M1375.9 931.8H1385.7" stroke="#c27a84" stroke-width="1.3" fill="none"/><path d="M1433.45 950.4V954.4M1428.55 950.4H1438.35M1428.55 954.4H1438.35" stroke="#c27a84" stroke-width="1.3" fill="none"/><path d="M1486.1 949.3V953.3M1481.2 949.3H1491M1481.2 953.3H1491" stroke="#c27a84" stroke-width="1.3" fill="none"/><path d="M1538.75 958.5V962.5M1533.85 958.5H1543.65M1533.85 962.5H1543.65" stroke="#c27a84" stroke-width="1.3" fill="none"/><path d="M1591.4 962.9V966.9M1586.5 962.9H1596.3M1586.5 966.9H1596.3" stroke="#c27a84" stroke-width="1.3" fill="none"/><path d="M1012.25 966.7 L1064.9 959.9 L1117.55 957.8 L1170.2 949.2 L1222.85 919.4 L1275.5 897.7 L1328.15 900.25 L1380.8 916.65 L1433.45 952.4 L1486.1 951.3 L1538.75 960.5 L1591.4 964.9" stroke="#b8707a" stroke-width="1.4" fill="none" stroke-linejoin="round"/><circle cx="1012.25" cy="966.7" r="5.7" fill="#ff0000" stroke="#d80000" stroke-width="0.8"/><circle cx="1064.9" cy="959.9" r="5.7" fill="#ff0000" stroke="#d80000" stroke-width="0.8"/><circle cx="1117.55" cy="957.8" r="5.7" fill="#ff0000" stroke="#d80000" stroke-width="0.8"/><circle cx="1170.2" cy="949.2" r="5.7" fill="#ff0000" stroke="#d80000" stroke-width="0.8"/><circle cx="1222.85" cy="919.4" r="5.7" fill="#ff0000" stroke="#d80000" stroke-width="0.8"/><circle cx="1275.5" cy="897.7" r="5.7" fill="#ff0000" stroke="#d80000" stroke-width="0.8"/><circle cx="1328.15" cy="900.25" r="5.7" fill="#ff0000" stroke="#d80000" stroke-width="0.8"/><circle cx="1380.8" cy="916.65" r="5.7" fill="#ff0000" stroke="#d80000" stroke-width="0.8"/><circle cx="1433.45" cy="952.4" r="5.7" fill="#ff0000" stroke="#d80000" stroke-width="0.8"/><circle cx="1486.1" cy="951.3" r="5.7" fill="#ff0000" stroke="#d80000" stroke-width="0.8"/><circle cx="1538.75" cy="960.5" r="5.7" fill="#ff0000" stroke="#d80000" stroke-width="0.8"/><circle cx="1591.4" cy="964.9" r="5.7" fill="#ff0000" stroke="#d80000" stroke-width="0.8"/></g>
<path d="M960 525.8V972.6H1644.05" stroke="#111" stroke-width="2.1" fill="none" stroke-linecap="square"/>
<text transform="translate(949.3 980.11) scale(1 1.09)" text-anchor="end" font-size="24">0.00</text>
<text transform="translate(949.3 831.17) scale(1 1.09)" text-anchor="end" font-size="24">0.10</text>
<text transform="translate(949.3 682.24) scale(1 1.09)" text-anchor="end" font-size="24">0.20</text>
<text transform="translate(949.3 533.31) scale(1 1.09)" text-anchor="end" font-size="24">0.30</text>
<text transform="translate(1012.25 1001.8) scale(1 1.09)" text-anchor="middle" font-size="24">Jan</text>
<text transform="translate(1064.9 1001.8) scale(1 1.09)" text-anchor="middle" font-size="24">Feb</text>
<text transform="translate(1117.55 1001.8) scale(1 1.09)" text-anchor="middle" font-size="24">Mar</text>
<text transform="translate(1170.2 1001.8) scale(1 1.09)" text-anchor="middle" font-size="24">Apr</text>
<text transform="translate(1222.85 1001.8) scale(1 1.09)" text-anchor="middle" font-size="24">May</text>
<text transform="translate(1275.5 1001.8) scale(1 1.09)" text-anchor="middle" font-size="24">Jun</text>
<text transform="translate(1328.15 1001.8) scale(1 1.09)" text-anchor="middle" font-size="24">Jul</text>
<text transform="translate(1380.8 1001.8) scale(1 1.09)" text-anchor="middle" font-size="24">Aug</text>
<text transform="translate(1433.45 1001.8) scale(1 1.09)" text-anchor="middle" font-size="24">Sep</text>
<text transform="translate(1486.1 1001.8) scale(1 1.09)" text-anchor="middle" font-size="24">Oct</text>
<text transform="translate(1538.75 1001.8) scale(1 1.09)" text-anchor="middle" font-size="24">Nov</text>
<text transform="translate(1591.4 1001.8) scale(1 1.09)" text-anchor="middle" font-size="24">Dec</text>
<path d="M976.1 562.5H1030.8" stroke="#474747" stroke-width="1.3"/>
<rect x="998.5" y="557.5" width="10" height="10" fill="#000000"/>
<text transform="translate(1038.7 570.9) scale(1 1.09)" font-size="24"><tspan dy="-0" font-size="24">NH</tspan><tspan dy="5.78" font-size="15.5">3</tspan></text>
<path d="M976.1 601.2H1030.8" stroke="#b8707a" stroke-width="1.3"/>
<circle cx="1003.5" cy="601.2" r="5.7" fill="#ff0000" stroke="#d80000" stroke-width="0.8"/>
<text transform="translate(1038.7 609.6) scale(1 1.09)" font-size="24"><tspan dy="-0" font-size="24">pNH</tspan><tspan dy="5.78" font-size="15.5">4</tspan><tspan dy="-13.53" font-size="15.5">+</tspan></text>
<text x="1435.1" y="587.4" text-anchor="middle" font-size="24.5">d</text>
<text transform="translate(855 749.3) rotate(-90)" text-anchor="middle" font-size="24.4">Dry reduced Nr deposition fluxes</text>
<text transform="translate(896 750.9) rotate(-90)" text-anchor="middle" font-size="24.4"><tspan dy="-0" font-size="24.4">(kg N ha</tspan><tspan dy="-9.7" font-size="22.5">-1</tspan><tspan dy="9.7" font-size="24.4">month</tspan><tspan dy="-9.7" font-size="22.5">-1</tspan><tspan dy="9.7" font-size="24.4">)</tspan></text></g>
</svg>
</body></html>
